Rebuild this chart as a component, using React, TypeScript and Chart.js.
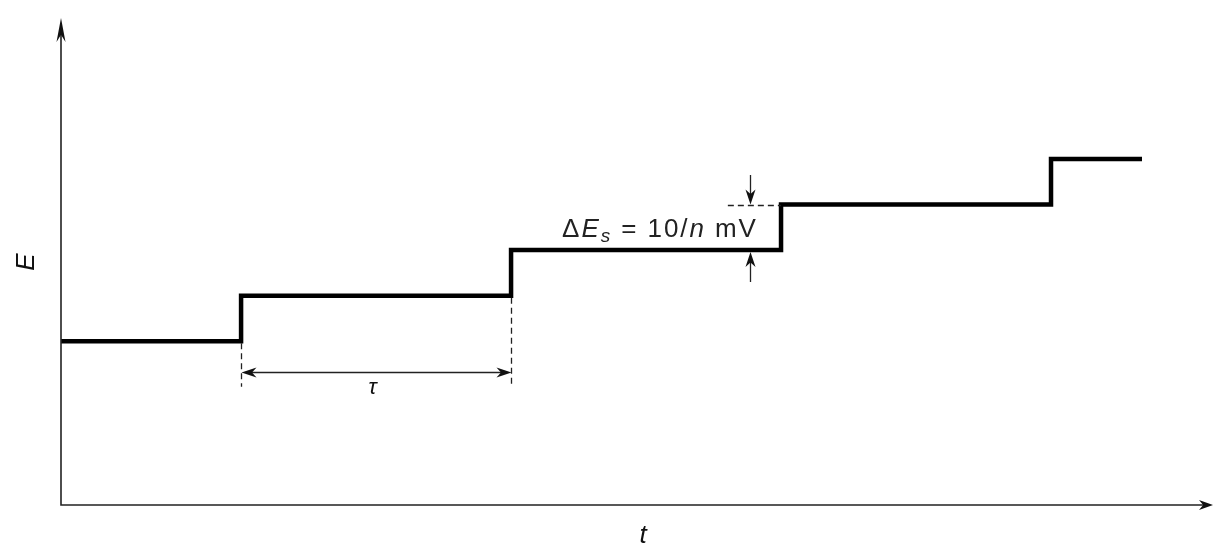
import React, { useEffect, useRef } from "react";
import { Chart, registerables } from "chart.js";

Chart.register(...registerables);

// Staircase potential waveform (time in units of τ, potential in units of ΔEs)
const stepTimes = [0, 0.667, 1.667, 2.667, 3.667, 4.004];
const stepPotentials = [3.6, 4.6, 5.6, 6.6, 7.6, 7.6];

// Axis extents
const xAxisMax = 4.267;
const yAxisMax = 10.7;

// τ annotation
const tauSpan = [0.667, 1.667];
const tauArrowLevel = 2.92;
const tauDashBottom = 2.6;
const tauLabel = "τ";

// ΔEs annotation
const deltaDashStart = 2.47;
const deltaArrowTime = 2.552;
const deltaLowerLevel = 5.6;
const deltaUpperLevel = 6.6;
const deltaArrowTopFrom = 7.25;
const deltaArrowBottomFrom = 4.9;
const deltaTextLeft = 1.856;
const deltaTextRight = 2.574;
const deltaTextBaseline = 5.89;

const axisLabelX = "t";
const axisLabelY = "E";

const FONT = '"Liberation Sans", Arial, sans-serif';

function arrowHead(ctx: CanvasRenderingContext2D, x: number, y: number, angle: number, len = 11, half = 4.5) {
  ctx.save();
  ctx.translate(x, y);
  ctx.rotate(angle);
  ctx.beginPath();
  ctx.moveTo(0, 0);
  ctx.lineTo(-len, -half);
  ctx.lineTo(-len * 0.7, 0);
  ctx.lineTo(-len, half);
  ctx.closePath();
  ctx.fill();
  ctx.restore();
}

const annotations = {
  id: "annotations",
  afterDatasetsDraw(chart: any) {
    const ctx: CanvasRenderingContext2D = chart.ctx;
    const xs = chart.scales.x;
    const ys = chart.scales.y;
    const { left, right, top, bottom } = chart.chartArea;
    ctx.save();
    ctx.fillStyle = "#111";
    ctx.strokeStyle = "#222";

    // axes
    ctx.lineWidth = 1.6;
    ctx.beginPath();
    ctx.moveTo(left, top + 8);
    ctx.lineTo(left, bottom);
    ctx.lineTo(right - 8, bottom);
    ctx.stroke();
    arrowHead(ctx, left, top, -Math.PI / 2, 24, 4.5);
    arrowHead(ctx, right, bottom, 0, 14, 5);

    // axis labels
    ctx.font = `italic 26px ${FONT}`;
    ctx.textAlign = "center";
    ctx.textBaseline = "middle";
    ctx.fillText(axisLabelX, 643, 536);
    ctx.save();
    ctx.translate(27, 262);
    ctx.rotate(-Math.PI / 2);
    ctx.fillText(axisLabelY, 0, 0);
    ctx.restore();

    // τ dashed guides
    ctx.lineWidth = 1.3;
    ctx.setLineDash([6, 4]);
    ctx.beginPath();
    const xa = Math.round(xs.getPixelForValue(tauSpan[0])) + 0.5;
    const xb = Math.round(xs.getPixelForValue(tauSpan[1])) + 0.5;
    ctx.moveTo(xa, ys.getPixelForValue(stepPotentials[0]) + 2);
    ctx.lineTo(xa, ys.getPixelForValue(tauDashBottom));
    ctx.moveTo(xb, ys.getPixelForValue(stepPotentials[1]) + 2);
    ctx.lineTo(xb, ys.getPixelForValue(tauDashBottom));
    // ΔEs dashed guide
    const yUp = Math.round(ys.getPixelForValue(deltaUpperLevel)) + 0.5;
    ctx.moveTo(xs.getPixelForValue(deltaDashStart), yUp);
    ctx.lineTo(xs.getPixelForValue(stepTimes[3]), yUp);
    ctx.stroke();
    ctx.setLineDash([]);

    // τ double arrow
    const yt = Math.round(ys.getPixelForValue(tauArrowLevel)) + 0.5;
    ctx.lineWidth = 1.3;
    ctx.beginPath();
    ctx.moveTo(xa + 6, yt);
    ctx.lineTo(xb - 6, yt);
    ctx.stroke();
    arrowHead(ctx, xa, yt, Math.PI, 15, 5);
    arrowHead(ctx, xb, yt, 0, 15, 5);
    ctx.font = `italic 22px ${FONT}`;
    ctx.fillText(tauLabel, (xa + xb) / 2 - 4, 388);

    // ΔEs arrows
    const xd = Math.round(xs.getPixelForValue(deltaArrowTime)) + 0.5;
    const yLow = ys.getPixelForValue(deltaLowerLevel) + 2;
    const yUpper = ys.getPixelForValue(deltaUpperLevel);
    ctx.beginPath();
    ctx.moveTo(xd, ys.getPixelForValue(deltaArrowTopFrom));
    ctx.lineTo(xd, yUpper - 6);
    ctx.moveTo(xd, ys.getPixelForValue(deltaArrowBottomFrom));
    ctx.lineTo(xd, yLow + 6);
    ctx.stroke();
    arrowHead(ctx, xd, yUpper, Math.PI / 2, 15, 5);
    arrowHead(ctx, xd, yLow, -Math.PI / 2, 15, 5);

    // ΔEs text, fitted between left and right anchors
    const parts: [string, string, number][] = [
      ["Δ", `26px ${FONT}`, 0],
      ["E", `italic 26px ${FONT}`, 0],
      ["s", `italic 19px ${FONT}`, 5],
      [" = 10/", `26px ${FONT}`, 0],
      ["n", `italic 26px ${FONT}`, 0],
      [" mV", `26px ${FONT}`, 0],
    ];
    const xl = xs.getPixelForValue(deltaTextLeft);
    const xr = xs.getPixelForValue(deltaTextRight);
    let total = 0;
    let chars = 0;
    for (const [s, f] of parts) {
      ctx.font = f;
      total += ctx.measureText(s).width;
      chars += [...s].length;
    }
    const spacing = Math.max(0, (xr - xl - total) / (chars - 1));
    let x = xl;
    const yb = ys.getPixelForValue(deltaTextBaseline);
    ctx.textAlign = "left";
    ctx.textBaseline = "alphabetic";
    ctx.fillStyle = "#222";
    for (const [s, f, dy] of parts) {
      ctx.font = f;
      for (const ch of [...s]) {
        ctx.fillText(ch, x, yb + dy);
        x += ctx.measureText(ch).width + spacing;
      }
    }
    ctx.restore();
  },
};

export default function App() {
  const ref = useRef<HTMLCanvasElement | null>(null);
  useEffect(() => {
    if (!ref.current) return;
    const chart = new Chart(ref.current, {
      type: "line",
      data: {
        datasets: [
          {
            data: stepTimes.map((t, i) => ({ x: t, y: stepPotentials[i] })),
            stepped: "before",
            borderColor: "#000",
            borderWidth: 4.5,
            pointRadius: 0,
            fill: false,
            borderCapStyle: "butt",
            borderJoinStyle: "miter",
          },
        ],
      },
      options: {
        animation: false,
        responsive: false,
        maintainAspectRatio: false,
        events: [],
        layout: { padding: { left: 61, right: 1, top: 18, bottom: 44 } },
        plugins: { legend: { display: false }, tooltip: { enabled: false } },
        scales: {
          x: { type: "linear", min: 0, max: xAxisMax, display: false },
          y: { type: "linear", min: 0, max: yAxisMax, display: false },
        },
      },
      plugins: [annotations],
    });
    return () => chart.destroy();
  }, []);
  return (
    <div style={{ position: "fixed", left: 0, top: 0, width: 1214, height: 549, background: "#fff" }}>
      <canvas ref={ref} width={1214} height={549} style={{ width: 1214, height: 549 }} />
    </div>
  );
}
